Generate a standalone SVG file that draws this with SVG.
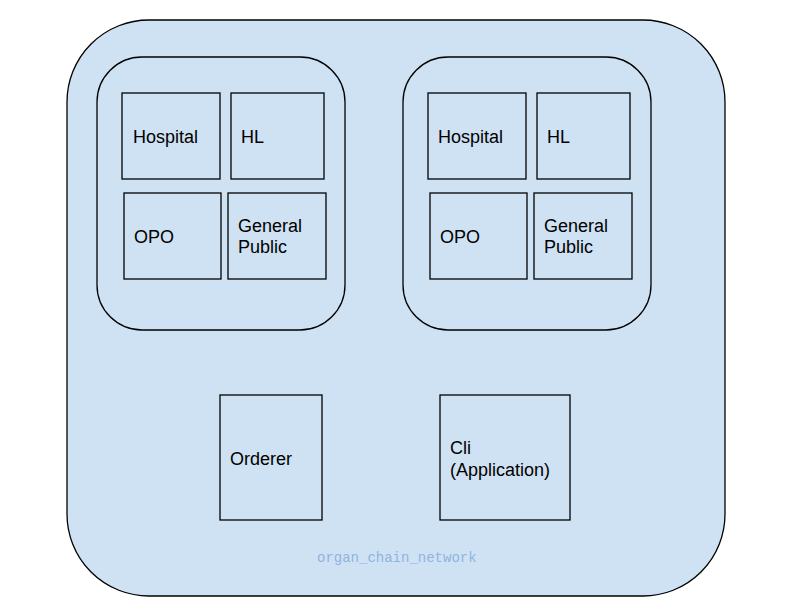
<svg xmlns="http://www.w3.org/2000/svg" width="791" height="613" viewBox="0 0 791 613">
<style>
.c{fill:#cfe2f3;stroke:#000;stroke-width:1.3}
.b{fill:#cfe2f3;stroke:#000;stroke-width:1.3}
.t{font-family:"Liberation Sans",Arial,sans-serif;font-size:18px;fill:#000}
.m{font-family:"Liberation Mono","Courier New",monospace;font-size:14px;fill:#8fb4e0}
</style>
<rect width="791" height="613" fill="#fff"/>
<g id="organ_chain_network">
<rect class="c" x="67" y="20" width="658" height="576" rx="82" ry="82"/>
<text class="m" x="317" y="562">organ_chain_network</text>
</g>
<g id="org1">
<rect class="c" x="97" y="57" width="248" height="273" rx="45" ry="45"/>
</g>
<g id="org2">
<rect class="c" x="403" y="57" width="248" height="273" rx="45" ry="45"/>
</g>
<g id="hospital1"><rect class="b" x="122" y="93" width="98" height="86"/><text class="t" x="133" y="143">Hospital</text></g>
<g id="hl1"><rect class="b" x="231" y="93" width="93" height="86"/><text class="t" x="241" y="143">HL</text></g>
<g id="opo1"><rect class="b" x="124" y="193" width="97" height="86"/><text class="t" x="134" y="243">OPO</text></g>
<g id="public1"><rect class="b" x="228" y="193" width="98" height="86"/><text class="t" x="238" y="232">General</text><text class="t" x="238" y="253">Public</text></g>
<g id="hospital2"><rect class="b" x="428" y="93" width="98" height="86"/><text class="t" x="438" y="143">Hospital</text></g>
<g id="hl2"><rect class="b" x="537" y="93" width="93" height="86"/><text class="t" x="547" y="143">HL</text></g>
<g id="opo2"><rect class="b" x="430" y="193" width="97" height="86"/><text class="t" x="440" y="243">OPO</text></g>
<g id="public2"><rect class="b" x="534" y="193" width="98" height="86"/><text class="t" x="544" y="232">General</text><text class="t" x="544" y="253">Public</text></g>
<g id="orderer"><rect class="b" x="220" y="395" width="102" height="125"/><text class="t" x="230" y="465">Orderer</text></g>
<g id="cli"><rect class="b" x="440" y="395" width="130" height="125"/><text class="t" x="450" y="454">Cli</text><text class="t" x="450" y="476">(Application)</text></g>
<g id="connectors"></g>
</svg>
